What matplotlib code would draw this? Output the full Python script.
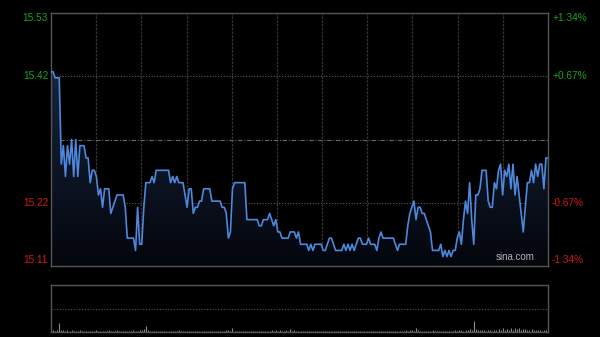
import numpy as np
import matplotlib
matplotlib.use("Agg")
import matplotlib.pyplot as plt

# ---- data ----
prev_close = 15.32
pct_range = 0.0134
left_labels = ["15.53", "15.42", "15.22", "15.11"]
right_labels = ["+1.34%", "+0.67%", "-0.67%", "-1.34%"]

price = [
    15.43, 15.43, 15.42, 15.42, 15.42, 15.28, 15.31, 15.26, 15.31, 15.28,
    15.32, 15.26, 15.32, 15.26, 15.31, 15.31, 15.31, 15.29, 15.29, 15.25,
    15.27, 15.27, 15.26, 15.23, 15.24, 15.21, 15.24, 15.24, 15.24, 15.20,
    15.21, 15.22, 15.23, 15.23, 15.23, 15.23, 15.21, 15.16, 15.16, 15.16,
    15.16, 15.14, 15.21, 15.15, 15.15, 15.21, 15.25, 15.25, 15.25, 15.26,
    15.25, 15.27, 15.27, 15.27, 15.27, 15.27, 15.27, 15.27, 15.25, 15.26,
    15.25, 15.26, 15.25, 15.25, 15.25, 15.23, 15.21, 15.24, 15.24, 15.20,
    15.21, 15.21, 15.22, 15.22, 15.24, 15.24, 15.24, 15.24, 15.22, 15.22,
    15.22, 15.22, 15.22, 15.21, 15.21, 15.20, 15.16, 15.17, 15.24, 15.25,
    15.25, 15.25, 15.25, 15.25, 15.25, 15.19, 15.19, 15.19, 15.19, 15.19,
    15.19, 15.18, 15.18, 15.19, 15.19, 15.19, 15.20, 15.19, 15.18, 15.19,
    15.17, 15.17, 15.16, 15.16, 15.16, 15.16, 15.17, 15.17, 15.17, 15.16,
    15.17, 15.15, 15.15, 15.15, 15.15, 15.14, 15.15, 15.14, 15.15, 15.15,
    15.15, 15.15, 15.14, 15.14, 15.15, 15.16, 15.16, 15.15, 15.14, 15.14,
    15.14, 15.14, 15.15, 15.14, 15.15, 15.14, 15.15, 15.14, 15.15, 15.16,
    15.16, 15.15, 15.15, 15.15, 15.16, 15.15, 15.15, 15.15, 15.14, 15.16,
    15.17, 15.16, 15.16, 15.16, 15.16, 15.16, 15.16, 15.15, 15.14, 15.15,
    15.15, 15.15, 15.15, 15.18, 15.20, 15.21, 15.22, 15.19, 15.21, 15.21,
    15.20, 15.20, 15.19, 15.18, 15.17, 15.14, 15.14, 15.14, 15.14, 15.15,
    15.13, 15.14, 15.13, 15.14, 15.13, 15.14, 15.14, 15.16, 15.17, 15.15,
    15.19, 15.22, 15.20, 15.25, 15.19, 15.15, 15.23, 15.23, 15.24, 15.27,
    15.27, 15.27, 15.22, 15.21, 15.21, 15.25, 15.24, 15.27, 15.28, 15.23,
    15.27, 15.26, 15.28, 15.24, 15.28, 15.23, 15.26, 15.23, 15.20, 15.17,
    15.21, 15.25, 15.25, 15.27, 15.25, 15.28, 15.26, 15.28, 15.28, 15.24,
    15.29, 15.29,
]

volume = [
    6, 4, 3, 5, 19, 5, 4, 3, 4, 3,
    4, 3, 2, 3, 4, 3, 2, 3, 2, 3,
    2, 3, 4, 2, 3, 2, 2, 3, 4, 3,
    3, 2, 4, 3, 2, 3, 2, 3, 2, 3,
    4, 3, 2, 5, 4, 6, 13, 4, 3, 2,
    2, 3, 2, 2, 3, 2, 3, 2, 2, 3,
    2, 3, 4, 3, 2, 3, 2, 2, 3, 2,
    3, 2, 2, 3, 2, 2, 3, 2, 2, 3,
    2, 3, 2, 2, 3, 4, 5, 3, 8, 3,
    2, 2, 3, 2, 2, 3, 2, 2, 3, 2,
    2, 3, 2, 2, 3, 2, 3, 4, 3, 5,
    3, 4, 3, 2, 5, 3, 6, 3, 4, 3,
    2, 3, 2, 3, 2, 2, 3, 2, 2, 3,
    2, 3, 2, 2, 3, 2, 2, 3, 2, 3,
    2, 2, 3, 2, 2, 3, 2, 2, 3, 2,
    3, 2, 2, 3, 2, 2, 3, 2, 3, 2,
    2, 3, 2, 2, 3, 2, 3, 2, 2, 3,
    2, 3, 4, 3, 5, 4, 3, 8, 4, 3,
    3, 2, 3, 2, 3, 4, 2, 3, 2, 3,
    2, 3, 2, 3, 2, 3, 4, 3, 5, 4,
    3, 5, 4, 6, 4, 23, 6, 5, 4, 5,
    4, 3, 5, 4, 3, 5, 4, 6, 5, 8,
    4, 6, 5, 9, 5, 8, 6, 9, 5, 7,
    6, 5, 4, 6, 5, 4, 5, 4, 3, 5,
    4, 6,
]

# ---- style ----
plt.rcParams['font.family'] = ['Liberation Sans', 'DejaVu Sans']
BG = '#000000'
GREEN = '#1aa31a'
RED = '#d11a1a'
LINE = '#4d88dd'
FRAME = '#555555'

fig = plt.figure(figsize=(6.0, 3.37), dpi=100, facecolor=BG)
W, H = 600, 337
def rect(x0, y0, x1, y1):
    return [x0 / W, 1 - y1 / H, (x1 - x0) / W, (y1 - y0) / H]

ax = fig.add_axes(rect(51, 13, 548, 266))
axv = fig.add_axes(rect(51, 285, 548, 332))

n = len(price)
x = np.arange(n)
span = prev_close * pct_range
ymin, ymax = prev_close - span, prev_close + span

ax.set_facecolor(BG)
ax.set_xlim(0, n - 1)
ax.set_ylim(ymin, ymax)

# grid
for k in range(1, 11):
    ax.axvline((n - 1) * k / 11, color='#333333', lw=0.9, ls=(0, (2, 1)), zorder=1)
for p in (prev_close * (1 + pct_range / 2), prev_close * (1 - pct_range / 2)):
    ax.axhline(p, color='#5a5a5a', lw=0.8, ls=(0, (1, 1.5)), zorder=1)
ax.axhline(prev_close, color='#666666', lw=0.8, ls=(0, (4, 1.5, 1, 1.5)), zorder=1)

# gradient fill under line
poly = ax.fill_between(x, price, ymin, color='none', lw=0)
grad = np.linspace(1, 0, 256).reshape(-1, 1)
top_c = np.array([22, 36, 62]) / 255
bot_c = np.array([4, 6, 12]) / 255
img = grad[..., None] * top_c + (1 - grad[..., None]) * bot_c
im = ax.imshow(img, extent=[0, n - 1, ymin, max(price)], aspect='auto',
               origin='upper', zorder=2)
im.set_clip_path(poly.get_paths()[0], transform=ax.transData)
ax.set_ylim(ymin, ymax)
ax.plot(x, price, color=LINE, lw=1.2, zorder=3)

for s in ax.spines.values():
    s.set_color(FRAME)
    s.set_linewidth(1.0)
ax.set_xticks([])
ax.set_yticks([])

# y labels
lab_y = [ymax - 0.008, prev_close * (1 + pct_range / 2),
         prev_close * (1 - pct_range / 2), ymin + 0.009]
cols = [GREEN, GREEN, RED, RED]
for ly, t, c in zip(lab_y, left_labels, cols):
    ax.text(-0.006, ly, t, transform=ax.get_yaxis_transform(), ha='right',
            va='center', color=c, fontsize=7.3)
for ly, t, c in zip(lab_y, right_labels, cols):
    ax.text(1.008, ly, t, transform=ax.get_yaxis_transform(), ha='left',
            va='center', color=c, fontsize=7.3)

ax.text(0.973, 0.015, 'sina.com', transform=ax.transAxes, ha='right', va='bottom',
        color='#b5b5b5', fontsize=7.0, zorder=5)

# volume panel
axv.set_facecolor(BG)
axv.set_xlim(0, n - 1)
axv.set_ylim(0, 100)
axv.vlines(x, 0, volume, color='#8a8a8a', lw=0.8)
axv.axhline(50, color='#555555', lw=0.8, ls=(0, (1, 1.5)))
for s in axv.spines.values():
    s.set_color(FRAME)
    s.set_linewidth(1.0)
axv.spines['top'].set_linestyle((0, (1, 1)))
axv.set_xticks([])
axv.set_yticks([])

fig.savefig('out.png', dpi=100, facecolor=BG)
